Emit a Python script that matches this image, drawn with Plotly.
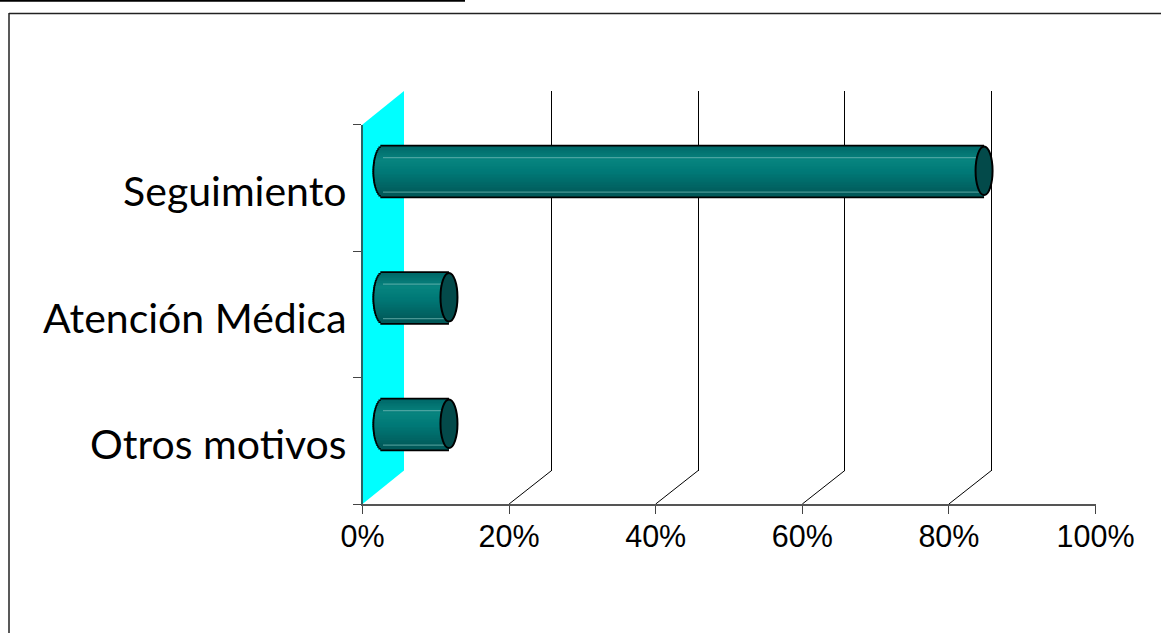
import math
import plotly.graph_objects as go

categories = ["Otros motivos", "Atención Médica", "Seguimiento"]
values = [9, 9, 82]
x_ticks = [0, 20, 40, 60, 80, 100]
x_tick_labels = ["0%", "20%", "40%", "60%", "80%", "100%"]
back_grid = [20, 40, 60, 80]

W, H = 1161, 633
L, R, T, B = 362.5, 1095.5, 124.5, 504
DX, DY = 42.5, 33.5          # depth of the pseudo-3D box
BDX, BDY = 20.5, 17          # depth position of the bars
BAR_W = 0.385
CAP_PX = 8.5
STRIPS = 30
PAD_PX = 15                  # room left of the bar axis for the rounded end
unit = (R - L) / 100


def px(v):
    return v / W


def py(v):
    return 1 - v / H


def lerp(a, b, t):
    return tuple(a[i] + (b[i] - a[i]) * t for i in range(3))


def strip_color(t):
    stops = [(0, (0, 104, 104)), (0.28, (8, 133, 128)), (0.55, (0, 120, 118)), (1, (2, 88, 88))]
    c = stops[-1][1]
    for (a, ca), (b, cb) in zip(stops, stops[1:]):
        if a <= t <= b:
            c = lerp(ca, cb, (t - a) / (b - a))
            break
    return "rgb(%d,%d,%d)" % c


fig = go.Figure()

# back wall axes
fig.add_trace(go.Scatter(x=x_ticks[:3], y=categories, xaxis="x", yaxis="y", mode="markers",
                         marker=dict(opacity=0), hoverinfo="skip", showlegend=False))
# front axes
fig.add_trace(go.Scatter(x=x_ticks[:3], y=categories, xaxis="x2", yaxis="y2", mode="markers",
                         marker=dict(opacity=0), hoverinfo="skip", showlegend=False))


def add_strips(extra_px, extra_w, color_fn, overlap):
    w = BAR_W + extra_w
    n = STRIPS
    for k in range(n):
        t = (k + 0.5) / n
        s = 2 * t - 1
        round_px = (CAP_PX + extra_px) * math.sqrt(max(0, 1 - s * s))
        base = -round_px / unit
        xs = [v - base for v in values]
        fig.add_trace(go.Bar(
            y=categories, x=xs, base=[base] * 3, orientation="h",
            width=w / n + overlap, offset=w / 2 - (k + 1) * w / n - overlap,
            marker=dict(color=color_fn(t), line=dict(width=0)),
            xaxis="x3", yaxis="y3", showlegend=False, hoverinfo="skip",
        ))


add_strips(2.0, 0.026, lambda t: "#000000", 0.012)
add_strips(0.0, 0.0, strip_color, 0.012)

shapes = []
# frame
shapes.append(dict(type="line", xref="paper", yref="paper", x0=0, x1=px(465), y0=py(0.8), y1=py(0.8),
                   line=dict(color="#000", width=2)))
shapes.append(dict(type="line", xref="paper", yref="paper", x0=px(9), x1=1, y0=py(13.5), y1=py(13.5),
                   line=dict(color="#222", width=1.5)))
shapes.append(dict(type="line", xref="paper", yref="paper", x0=px(9), x1=px(9), y0=py(13), y1=0,
                   line=dict(color="#222", width=1.5)))
# side wall
wall = "M %f %f L %f %f L %f %f L %f %f Z" % (px(L), py(T), px(L + DX - 1), py(T - DY),
                                              px(L + DX - 1), py(B - DY), px(L), py(B))
shapes.append(dict(type="path", xref="paper", yref="paper", path=wall, fillcolor="#00ffff",
                   line=dict(width=0), layer="below"))
# floor diagonals
for v in back_grid:
    shapes.append(dict(type="line", xref="paper", yref="paper",
                       x0=px(L + v * unit), x1=px(L + v * unit + DX), y0=py(B), y1=py(B - DY),
                       line=dict(color="#000", width=1), layer="below"))
# highlights and end caps of the bars
for i, v in enumerate(values):
    for frac in (-0.44, 0.27):
        y_pos = i + frac * BAR_W
        shapes.append(dict(type="line", xref="x3", yref="y3", x0=0, x1=v, y0=y_pos, y1=y_pos,
                           line=dict(color="rgba(120,190,185,0.6)", width=1.2), layer="above"))
    cw = CAP_PX / unit
    shapes.append(dict(type="circle", xref="x3", yref="y3",
                       x0=v - cw, x1=v + cw, y0=i - BAR_W / 2, y1=i + BAR_W / 2,
                       fillcolor="#034a4a", line=dict(color="#000", width=2), layer="above"))

fig.update_layout(
    template=None,
    width=W, height=H, margin=dict(l=0, r=0, t=0, b=0, pad=0),
    paper_bgcolor="#fff", plot_bgcolor="rgba(0,0,0,0)", barmode="overlay", showlegend=False,
    shapes=shapes,
    # back wall
    xaxis=dict(domain=[px(L + DX), px(R + DX)], range=[0, 100], automargin=False,
               tickmode="array", tickvals=back_grid, showticklabels=False, ticks="",
               showgrid=True, gridcolor="#000", gridwidth=1, zeroline=False, showline=False, anchor="y"),
    yaxis=dict(domain=[py(B - DY), py(T - DY)], type="category", categoryorder="array", automargin=False,
               categoryarray=categories, range=[-0.5, 2.5], showticklabels=False, ticks="",
               showgrid=False, zeroline=False, showline=False, anchor="x"),
    # front axes
    xaxis2=dict(domain=[px(L), px(R)], range=[0, 100], tickmode="array", tickvals=x_ticks, automargin=False,
                ticktext=x_tick_labels, ticks="outside", ticklen=8, tickcolor="#444", tickwidth=1,
                showgrid=False, zeroline=False, showline=True, linecolor="#555", linewidth=1.5,
                ticklabelstandoff=-3,
                tickfont=dict(family="Liberation Sans", size=30.5, color="#000"), anchor="y2"),
    yaxis2=dict(domain=[py(B), py(T)], type="category", categoryorder="array", categoryarray=categories,
                range=[-0.5, 2.5], tickson="boundaries", ticks="outside", ticklen=8, tickcolor="#444",
                tickwidth=1, showgrid=False, zeroline=False, showline=True, linecolor="#2a6465", automargin=False,
                linewidth=1.5, ticklabelstandoff=6, ticklabelshift=4,
                tickfont=dict(family="Lato", size=41, color="#000"), anchor="x2"),
    # bar axes, widened to the left so the rounded bar ends are kept
    xaxis3=dict(domain=[px(L + BDX - PAD_PX), px(R + BDX)], range=[-PAD_PX / unit, 100], visible=False,
                automargin=False, anchor="y3"),
    yaxis3=dict(domain=[py(B - BDY), py(T - BDY)], type="category", categoryorder="array", automargin=False,
                categoryarray=categories, range=[-0.5, 2.5], visible=False, anchor="x3"),
)

fig.write_html("out.html", config=dict(displayModeBar=False),
               post_script="document.body.style.margin='0';document.body.style.overflow='hidden';")
